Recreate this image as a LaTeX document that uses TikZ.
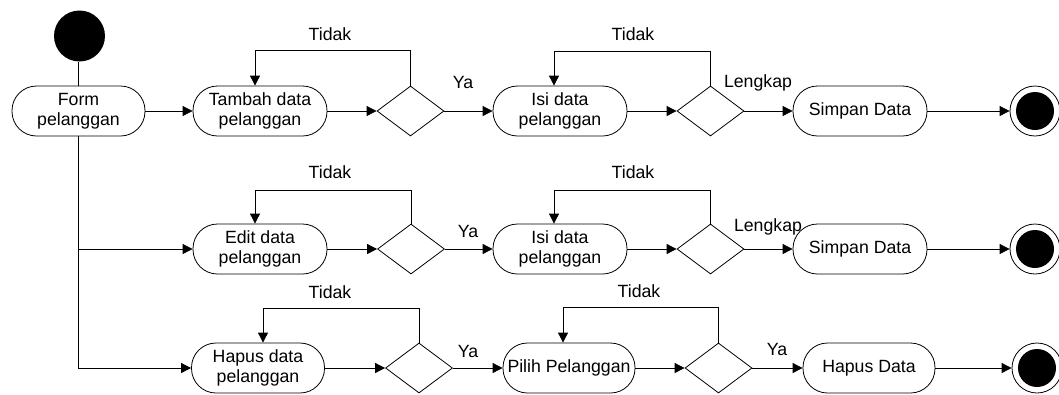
\documentclass[tikz,border=0pt]{standalone}
\usepackage{fontspec}
\setmainfont{Liberation Sans}
\usetikzlibrary{shapes.geometric,arrows.meta}
\begin{document}
\begin{tikzpicture}[x=1pt,y=-1pt,line width=0.8pt,
  act/.style={draw,rectangle,rounded corners=24.5pt,minimum height=50pt,minimum width=134pt,inner sep=0pt,align=center,font=\fontsize{17.7}{20.5}\selectfont},
  dec/.style={draw,diamond,minimum width=67pt,minimum height=50pt,inner sep=0pt},
  lbl/.style={font=\fontsize{17.7}{20.5}\selectfont,inner sep=0pt},
  flow/.style={-{Triangle[length=10pt,width=10pt]}},
  endout/.style={draw,circle,minimum size=50pt,inner sep=0pt},
  endin/.style={fill=black,circle,minimum size=38pt,inner sep=0pt}]
\useasboundingbox (0,0) rectangle (1059,394);

% start
\node[fill=black,circle,minimum size=51pt,inner sep=0pt] (start) at (79.5,36) {};
\node[act,minimum width=133pt] (form) at (78.5,111) {Form\\pelanggan};
\draw (form.north) -- (form.north |- start.south);

% row 1
\node[act] (tambah) at (260,111) {Tambah data\\pelanggan};
\node[dec] (d1) at (410.5,111) {};
\node[act] (isi1) at (560,111) {Isi data\\pelanggan};
\node[dec] (d2) at (710.5,111) {};
\node[act] (simpan1) at (860,111) {Simpan Data};
\node[endout] (end1) at (1035,111) {};
\node[endin] (end1in) at (end1) {};

% row 2
\node[act] (edit) at (260,249) {Edit data\\pelanggan};
\node[dec] (d3) at (411,249) {};
\node[act] (isi2) at (560,249) {Isi data\\pelanggan};
\node[dec] (d4) at (710.5,249) {};
\node[act] (simpan2) at (860,249) {Simpan Data};
\node[endout] (end2) at (1035,249) {};
\node[endin] (end2in) at (end2) {};

% row 3
\node[act,minimum width=133pt] (hapus) at (258,368) {Hapus data\\pelanggan};
\node[dec] (d5) at (419,368) {};
\node[act,minimum width=132pt] (pilih) at (569,368) {Pilih Pelanggan};
\node[dec] (d6) at (718.5,368) {};
\node[act,minimum width=132pt] (hapusdata) at (869,368) {Hapus Data};
\node[endout] (end3) at (1037,368) {};
\node[endin] (end3in) at (end3) {};

% left trunk
\coordinate (branch2) at (78.5,249);
\draw[flow] (form.south) |- (hapus.west);
\draw[flow] (branch2) -- (edit.west);
\draw[flow] (form.east) -- (tambah.west);

% row 1 flows
\draw[flow] (tambah.east) -- (d1.west);
\draw[flow] (d1.east) -- (isi1.west);
\draw[flow] (isi1.east) -- (d2.west);
\draw[flow] (d2.east) -- (simpan1.west);
\draw[flow] (simpan1.east) -- (end1.west);
\draw[flow] (d1.north) -- (d1.north |- 0,50) -| (255,0 |- tambah.north);
\draw[flow] (d2.north) -- (d2.north |- 0,51) -| (554,0 |- isi1.north);

% row 2 flows
\draw[flow] (edit.east) -- (d3.west);
\draw[flow] (d3.east) -- (isi2.west);
\draw[flow] (isi2.east) -- (d4.west);
\draw[flow] (d4.east) -- (simpan2.west);
\draw[flow] (simpan2.east) -- (end2.west);
\draw[flow] (d3.north) -- (d3.north |- 0,190) -| (255,0 |- edit.north);
\draw[flow] (d4.north) -- (d4.north |- 0,190) -| (554,0 |- isi2.north);

% row 3 flows
\draw[flow] (hapus.east) -- (d5.west);
\draw[flow] (d5.east) -- (pilih.west);
\draw[flow] (pilih.east) -- (d6.west);
\draw[flow] (d6.east) -- (hapusdata.west);
\draw[flow] (hapusdata.east) -- (end3.west);
\draw[flow] (d5.north) -- (d5.north |- 0,308) -| (263,0 |- hapus.north);
\draw[flow] (d6.north) -- (d6.north |- 0,307) -| (563,0 |- pilih.north);

% labels
\node[lbl] (t1) at (330,34) {Tidak};
\node[lbl] (t2) at (633,34) {Tidak};
\node[lbl] (t3) at (330,172) {Tidak};
\node[lbl] (t4) at (633,172) {Tidak};
\node[lbl] (t5) at (330,292) {Tidak};
\node[lbl] (t6) at (639,291) {Tidak};
\node[lbl] (y1) at (463,82) {Ya};
\node[lbl] (y2) at (468,231) {Ya};
\node[lbl] (y3) at (468,351) {Ya};
\node[lbl] (y4) at (777,349) {Ya};
\node[lbl] (l1) at (758,83) {Lengkap};
\node[lbl] (l2) at (768,227) {Lengkap};
\end{tikzpicture}
\end{document}
